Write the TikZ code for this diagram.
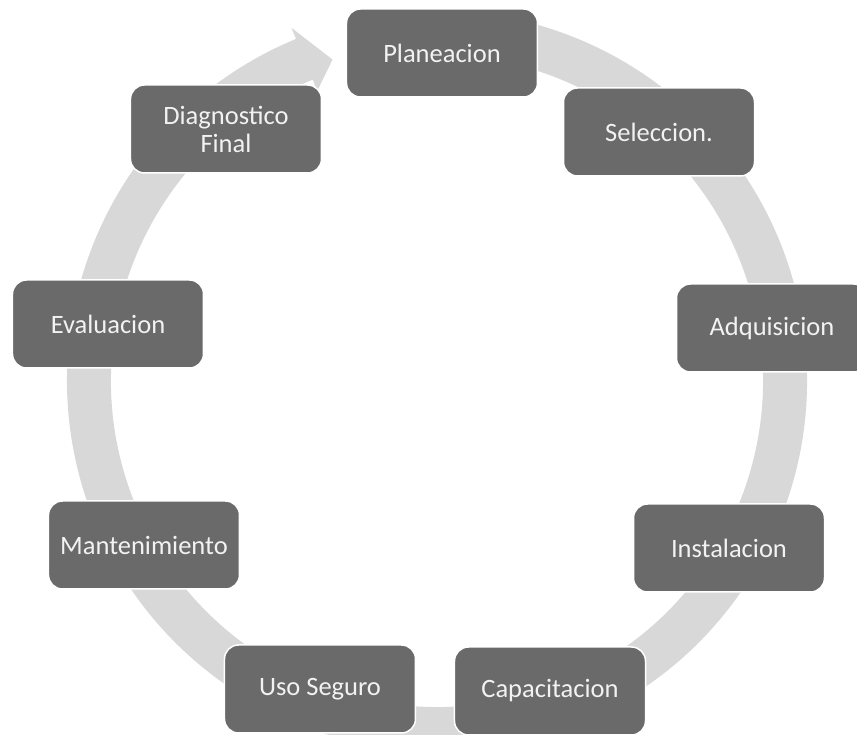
\documentclass[tikz,border=0pt]{standalone}
\usepackage{fontspec}
\setmainfont{Carlito}
\definecolor{cajagris}{RGB}{106,106,106}
\definecolor{anillogris}{RGB}{216,216,216}
\tikzset{
    etapa/.style={draw=white, line width=1.5pt, fill=cajagris, rounded corners=14pt,
        minimum width=191pt, minimum height=88pt, align=center,
        text=white!95!black, font=\fontsize{26.5}{28}\selectfont}
}
\begin{document}
\begin{tikzpicture}[x=1pt, y=1pt]
    \useasboundingbox (-437, -354) rectangle (420, 381);
    % anillo con punta de flecha
    \fill[anillogris] (100:370) arc[start angle=100, end angle=-247.6, radius=370]
        -- (112.4:382) -- (108:338) -- (112.4:314) -- (112.4:326)
        arc[start angle=-247.6, end angle=100, radius=326] -- cycle;
    % etapas
    \node[etapa] (plan) at (5, 328) {Planeacion};
    \node[etapa] (selec) at (222, 249) {Seleccion.};
    \node[etapa] (adqui) at (335, 53) {Adquisicion};
    \node[etapa] (insta) at (292, -167) {Instalacion};
    \node[etapa] (capac) at (113, -310) {Capacitacion};
    \node[etapa] (uso) at (-117, -308) {Uso Seguro};
    \node[etapa] (mante) at (-293, -164) {Mantenimiento};
    \node[etapa] (evalu) at (-329, 57) {Evaluacion};
    \node[etapa] (diagn) at (-211, 252) {Diagnostico\\Final};
\end{tikzpicture}
\end{document}
